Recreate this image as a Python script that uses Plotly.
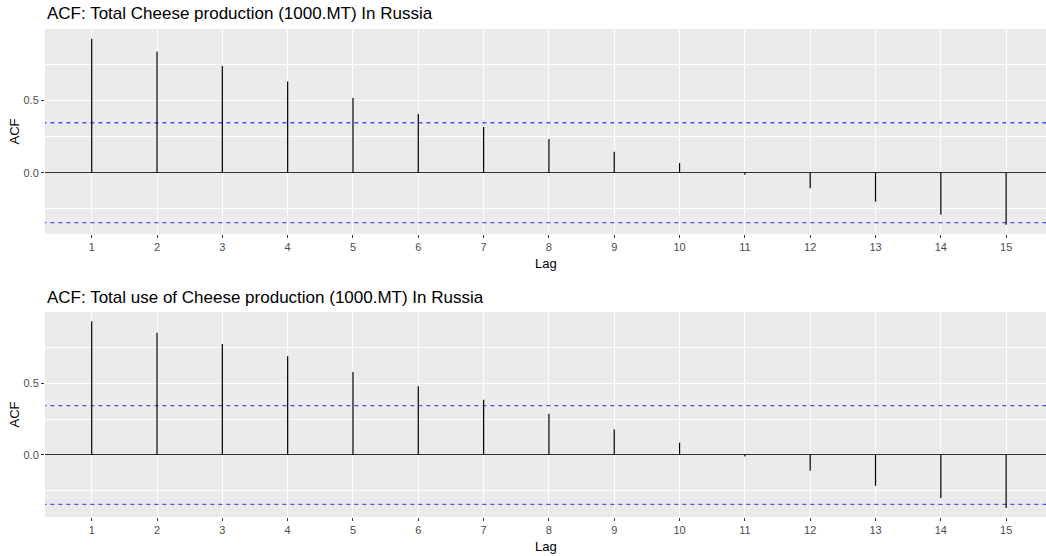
import plotly.graph_objects as go

lags = list(range(1, 16))
acf_production = [0.925, 0.836, 0.737, 0.629, 0.516, 0.405, 0.316, 0.233, 0.145, 0.067,
                  -0.014, -0.108, -0.200, -0.290, -0.359]
acf_use = [0.933, 0.854, 0.775, 0.689, 0.580, 0.480, 0.386, 0.288, 0.177, 0.086,
           -0.010, -0.110, -0.215, -0.300, -0.370]
ci_bound = 0.345
titles = ["ACF: Total Cheese production (1000.MT) In Russia",
          "ACF: Total use of Cheese production (1000.MT) In Russia"]

W, H = 1046, 556
FONT = "Liberation Sans, Arial, sans-serif"

fig = go.Figure()

def stems(lag, vals):
    xs, ys = [], []
    for l, v in zip(lag, vals):
        xs += [l, l, None]
        ys += [0, v, None]
    return xs, ys

panels = [
    dict(vals=acf_production, px=(29, 234), yr=[-0.423, 0.992], title_y=14, lag_y=264),
    dict(vals=acf_use, px=(312, 517), yr=[-0.433, 0.998], title_y=297, lag_y=546),
]

layout = dict(
    width=W, height=H, margin=dict(l=0, r=0, t=0, b=0),
    paper_bgcolor="white", plot_bgcolor="#EBEBEB", showlegend=False,
    font=dict(family=FONT, color="#4D4D4D"),
)
annotations = []

for i, p in enumerate(panels):
    n = "" if i == 0 else str(i + 1)
    xs, ys = stems(lags, p["vals"])
    for b in (ci_bound, -ci_bound):
        fig.add_trace(go.Scatter(x=[0, 16], y=[b, b], mode="lines", xaxis="x" + n, yaxis="y" + n,
                                 line=dict(color="#4B4BFF", width=1.3, dash="4px,4px"),
                                 hoverinfo="skip"))
    fig.add_trace(go.Scatter(x=xs, y=ys, mode="lines", xaxis="x" + n, yaxis="y" + n,
                             line=dict(color="black", width=1.2), hoverinfo="skip"))
    ydom = [1 - p["px"][1] / H, 1 - p["px"][0] / H]
    layout["xaxis" + n] = dict(
        domain=[45 / W, 1], range=[0.285, 15.61], anchor="y" + n,
        tickmode="linear", tick0=1, dtick=1,
        showgrid=True, gridcolor="white", gridwidth=1.1,
        ticks="outside", ticklen=3, tickcolor="#333333", tickwidth=1,
        tickfont=dict(size=11, color="#4D4D4D", family=FONT),
        zeroline=False, showline=False, fixedrange=True,
    )
    layout["yaxis" + n] = dict(
        domain=ydom, range=p["yr"], anchor="x" + n,
        tickmode="linear", tick0=0, dtick=0.5, tickformat=".1f",
        showgrid=True, gridcolor="white", gridwidth=1.1,
        minor=dict(tick0=0, dtick=0.25, showgrid=True, gridcolor="white", gridwidth=0.5),
        ticks="outside", ticklen=3, tickcolor="#333333", tickwidth=1,
        tickfont=dict(size=11, color="#4D4D4D", family=FONT),
        zeroline=True, zerolinecolor="#333333", zerolinewidth=1,
        showline=False, fixedrange=True,
    )
    annotations.append(dict(text=titles[i], x=45 / W, y=1 - p["title_y"] / H,
                            xref="paper", yref="paper", xanchor="left", yanchor="middle",
                            showarrow=False, font=dict(size=17, color="black", family=FONT)))
    annotations.append(dict(text="Lag", x=(45 + W) / 2 / W, y=1 - p["lag_y"] / H,
                            xref="paper", yref="paper", xanchor="center", yanchor="middle",
                            showarrow=False, font=dict(size=13, color="black", family=FONT)))
    annotations.append(dict(text="ACF", x=14 / W, y=sum(ydom) / 2,
                            xref="paper", yref="paper", xanchor="center", yanchor="middle",
                            textangle=-90, showarrow=False,
                            font=dict(size=13, color="black", family=FONT)))

layout["annotations"] = annotations
fig.update_layout(**layout)
fig.write_html("out.html", config={"displayModeBar": False},
               post_script="document.body.style.margin='0px';document.body.style.overflow='hidden';")
